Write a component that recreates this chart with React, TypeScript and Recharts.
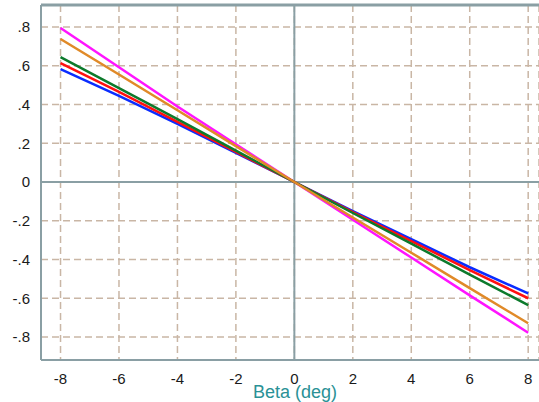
import React from 'react';
import { LineChart, Line, XAxis, YAxis, CartesianGrid, ReferenceLine } from 'recharts';

const beta = [-8, -6, -4, -2, 0, 2, 4, 6, 8];
const blueVals = [0.582, 0.445, 0.300, 0.150, 0, -0.150, -0.295, -0.440, -0.575];
const redVals = [0.613, 0.465, 0.310, 0.155, 0, -0.155, -0.305, -0.455, -0.600];
const greenVals = [0.644, 0.485, 0.325, 0.162, 0, -0.160, -0.318, -0.478, -0.635];
const orangeVals = [0.738, 0.555, 0.370, 0.185, 0, -0.183, -0.365, -0.548, -0.729];
const magentaVals = [0.795, 0.592, 0.390, 0.195, 0, -0.195, -0.390, -0.585, -0.778];

const xTicks = [-8, -6, -4, -2, 0, 2, 4, 6, 8];
const yTicks = [-0.8, -0.6, -0.4, -0.2, 0, 0.2, 0.4, 0.6, 0.8];
const X_MIN = -8.668;
const X_MAX = 8.37;
const Y_MIN = -0.9187;
const Y_MAX = 0.9135;

const data = beta.map((b, i) => ({
  beta: b,
  blue: blueVals[i],
  red: redVals[i],
  green: greenVals[i],
  orange: orangeVals[i],
  magenta: magentaVals[i],
}));

const FONT = '"Liberation Sans", Arial, sans-serif';
const AXIS = '#8a9fa4';

const fmtY = (v: number) => {
  if (Math.abs(v) < 1e-9) return '0';
  return v.toFixed(1).replace('0.', '.');
};

export default function App() {
  return (
    <div style={{ position: 'absolute', left: 0, top: 0, width: 539, height: 402, overflow: 'hidden', background: '#fff' }}>
      <LineChart width={539} height={402} data={data} margin={{ top: 5, right: 0, bottom: 0, left: 0 }}>
        <CartesianGrid stroke="#c9b6a5" strokeDasharray="7 4" strokeWidth={1.5} />
        <XAxis
          dataKey="beta"
          type="number"
          domain={[X_MIN, X_MAX]}
          ticks={xTicks}
          allowDataOverflow
          height={42}
          tickSize={6}
          tickMargin={7}
          tickLine={false}
          axisLine={{ stroke: AXIS, strokeWidth: 2 }}
          tick={{ fill: '#1a1a1a', fontSize: 15, fontFamily: FONT }}
          label={{
            content: () => (
              <text x={295} y={398} textAnchor="middle" fill="#2a9196" fontSize={18} fontFamily={FONT}>
                Beta (deg)
              </text>
            ),
          }}
        />
        <YAxis
          type="number"
          domain={[Y_MIN, Y_MAX]}
          ticks={yTicks}
          allowDataOverflow
          width={41}
          tickSize={6}
          tickMargin={5}
          tickLine={false}
          axisLine={{ stroke: AXIS, strokeWidth: 2 }}
          tickFormatter={fmtY}
          tick={{ fill: '#1a1a1a', fontSize: 15, fontFamily: FONT }}
        />
        <ReferenceLine y={0} stroke={AXIS} strokeWidth={2} />
        <ReferenceLine x={0} stroke={AXIS} strokeWidth={2} />
        <ReferenceLine y={Y_MAX} stroke={AXIS} strokeWidth={3} />
        <Line type="linear" dataKey="magenta" stroke="#ff14ff" strokeWidth={2.5} dot={false} isAnimationActive={false} />
        <Line type="linear" dataKey="blue" stroke="#0a2cff" strokeWidth={2.5} dot={false} isAnimationActive={false} />
        <Line type="linear" dataKey="red" stroke="#ff1010" strokeWidth={2.5} dot={false} isAnimationActive={false} />
        <Line type="linear" dataKey="green" stroke="#0d7a2c" strokeWidth={2.5} dot={false} isAnimationActive={false} />
        <Line type="linear" dataKey="orange" stroke="#e08a28" strokeWidth={2.5} dot={false} isAnimationActive={false} />
      </LineChart>
    </div>
  );
}
